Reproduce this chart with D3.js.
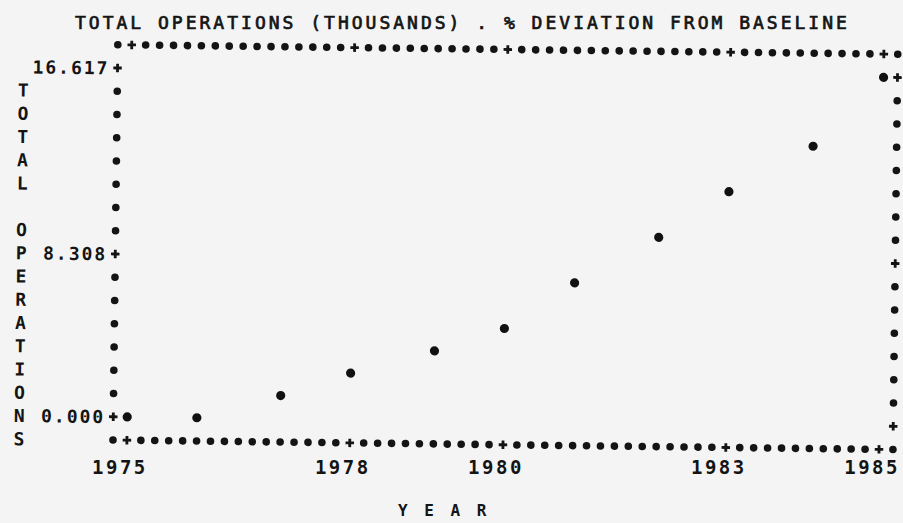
<!DOCTYPE html>
<html><head><meta charset="utf-8">
<script src="https://cdn.jsdelivr.net/npm/d3@7/dist/d3.min.js"></script>
<style>
html,body{margin:0;padding:0;background:#f4f4f4;}
svg{display:block;}
text{font-family:"DejaVu Sans Mono","Liberation Mono",monospace;fill:#141414;}
</style>
</head><body>
<svg id="chart" width="903" height="523"></svg>
<script>
// ---- data ----
const years = [1975, 1976, 1977, 1978, 1979, 1980, 1981, 1982, 1983, 1984, 1985];
const totalOps = [0.0, 0.3, 1.2, 2.3, 3.4, 4.5, 6.7, 8.9, 11.0, 13.3, 16.617];
const yTickValues = [16.617, 8.308, 0.0];
const yTickLabels = ["16.617", "8.308", "0.000"];
const xTickValues = [1975, 1978, 1980, 1983, 1985];
const xTickLabels = ["1975", "1978", "1980", "1983", "1985"];
const titleText = "TOTAL OPERATIONS (THOUSANDS) . % DEVIATION FROM BASELINE";
const yTitleText = "TOTAL OPERATIONS";
const xTitleText = "Y E A R";

// ---- line-printer grid ----
const NCOL = 56, NROW = 15;
const colPx = d3.scaleLinear().domain([0, NCOL]).range([113, 893]);
const rowPx = d3.scaleLinear().domain([-1, NROW + 1]).range([44.7, 440]);
const xCol = d3.scaleLinear().domain([1975, 1985]).range([1, NCOL - 1]);
const yRow = d3.scaleLinear().domain([0, 16.617]).range([NROW, 0]);
const px = v => colPx(Math.round(xCol(v)));
const py = v => rowPx(Math.round(yRow(v)));

const svg = d3.select("#chart");
svg.append("rect").attr("width", 903).attr("height", 523).attr("fill", "#f4f4f4");

const g = svg.append("g").attr("transform", "rotate(0.7,113,440)");

const tickCols = new Set(xTickValues.map(v => Math.round(xCol(v))));
const tickRows = new Set(yTickValues.map(v => Math.round(yRow(v))));

// frame cells
const cells = [];
for (let c = 0; c <= NCOL; c++) {
  cells.push({c, r: -1, plus: tickCols.has(c)});
  cells.push({c, r: NROW + 1, plus: tickCols.has(c)});
}
for (let r = 0; r <= NROW; r++) {
  cells.push({c: 0, r, plus: tickRows.has(r)});
  cells.push({c: NCOL, r, plus: tickRows.has(r)});
}

const cross = d3.symbol().type(d3.symbolCross).size(40);
g.selectAll("path.tick").data(cells.filter(d => d.plus)).join("path")
  .attr("class", "tick")
  .attr("d", cross)
  .attr("transform", d => `translate(${colPx(d.c)},${rowPx(d.r)})`)
  .attr("fill", "#141414");

g.selectAll("circle.frame").data(cells.filter(d => !d.plus)).join("circle")
  .attr("class", "frame")
  .attr("cx", d => colPx(d.c)).attr("cy", d => rowPx(d.r))
  .attr("r", 3.8).attr("fill", "#141414");

// data points
g.selectAll("circle.pt").data(years.map((y, i) => ({y, v: totalOps[i]}))).join("circle")
  .attr("class", "pt")
  .attr("cx", d => px(d.y)).attr("cy", d => py(d.v))
  .attr("r", 4.6).attr("fill", "#111");

// y tick labels
g.selectAll("text.ylab").data(yTickValues).join("text")
  .attr("class", "ylab")
  .attr("x", colPx(0) - 8)
  .attr("y", d => py(d))
  .attr("dy", "0.36em")
  .attr("text-anchor", "end")
  .attr("font-size", 18).attr("font-weight", "bold")
  .attr("letter-spacing", 2)
  .text((d, i) => yTickLabels[i]);

// vertical y title
g.selectAll("text.ytitle").data(yTitleText.split("").map((ch, i) => ({ch, i}))).join("text")
  .attr("class", "ytitle")
  .attr("x", 19)
  .attr("y", d => rowPx(d.i + 1))
  .attr("dy", "0.36em")
  .attr("text-anchor", "middle")
  .attr("font-size", 18).attr("font-weight", "bold")
  .text(d => d.ch);

// x tick labels
svg.selectAll("text.xlab").data(xTickValues).join("text")
  .attr("class", "xlab")
  .attr("x", d => px(d) - 7)
  .attr("y", 474)
  .attr("text-anchor", "middle")
  .attr("font-size", 19).attr("font-weight", "bold")
  .attr("letter-spacing", 2.5)
  .text((d, i) => xTickLabels[i]);

// title
svg.append("text")
  .attr("x", 75).attr("y", 29)
  .attr("font-size", 18)
  .attr("letter-spacing", 3)
  .attr("stroke", "#141414").attr("stroke-width", 0.7)
  .text(titleText);

// x title
svg.append("text")
  .attr("x", 398).attr("y", 516)
  .attr("font-size", 16).attr("font-weight", "bold")
  .attr("letter-spacing", 3.5)
  .text(xTitleText);
</script>
</body></html>
